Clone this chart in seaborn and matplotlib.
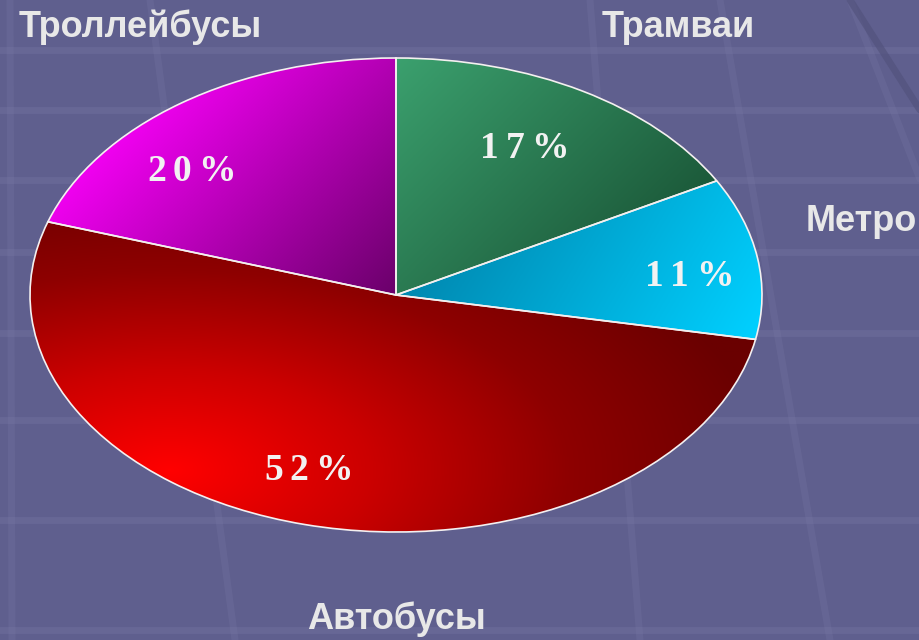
import numpy as np
import matplotlib
matplotlib.use("Agg")
import matplotlib.pyplot as plt
import seaborn as sns

# data
categories = ["Трамваи", "Метро", "Автобусы", "Троллейбусы"]
shares = [17, 11, 52, 20]
pct_labels = ["17%", "11%", "52%", "20%"]

# gradient end colours per slice (light -> dark)
grad_colors = [
    ["#3ba06e", "#1c5a3a"],
    ["#00d0ff", "#0088b0"],
    ["#ff0000", "#cc0000", "#8e0000", "#6a0000"],
    ["#f000f0", "#6a006a"],
]

sns.set_style("white")
plt.rcParams["font.family"] = ["Liberation Sans", "DejaVu Sans"]

bg = "#5f5f8e"
fig = plt.figure(figsize=(9.2, 6.4), dpi=100, facecolor=bg)

# background: faint perspective grid like the slide template
bax = fig.add_axes([0, 0, 1, 1])
bax.set_xlim(0, 920)
bax.set_ylim(640, 0)
bax.axis("off")
grid_c = "#7a7aa6"
for yy in [50, 110, 180, 252, 333, 420, 520, 630]:
    bax.plot([0, 920], [yy, yy], color=grid_c, lw=5, alpha=0.3)
for (x0, y0, x1, y1) in [(10, 0, 12, 640), (150, 0, 235, 640), (590, 0, 640, 640),
                         (720, 0, 830, 640), (850, 0, 1100, 640)]:
    bax.plot([x0, x1], [y0, y1], color=grid_c, lw=5, alpha=0.25)
bax.plot([850, 920], [0, 110], color="#50507a", lw=5, alpha=0.6)

# pie axes, stretched into an ellipse
ax = fig.add_axes([30 / 920, 108 / 640, 732 / 920, 474 / 640])
ax.patch.set_alpha(0)
wedges, _ = ax.pie(shares, startangle=90, counterclock=False,
                   wedgeprops=dict(edgecolor="#f4f0f0", linewidth=1.2))
ax.set_aspect("auto")
ax.set_xlim(-1, 1)
ax.set_ylim(-1, 1)
ax.axis("off")

# gradient fills clipped to each wedge
n = 600
xs = np.linspace(-1, 1, n)
X, Y = np.meshgrid(xs, xs[::-1])
Xp, Yp = X * 366, Y * 237
directions = [(1, -1), (1, -0.6), None, (1, -1)]
for w, cols, d in zip(wedges, grad_colors, directions):
    cmap = sns.blend_palette(cols, as_cmap=True)
    th = np.degrees(np.arctan2(Y, X))
    span = (w.theta2 - w.theta1) % 360
    mask = (((th - w.theta1) % 360) <= span) & (X**2 + Y**2 <= 1)
    if d is None:
        # glow from the lower left, darker towards top and right
        t = np.hypot(Xp - (-0.62 * 366), 2.0 * (Yp - (-0.74 * 237)))
        t = np.clip(t / 600, 0, 1)
    else:
        t = Xp * d[0] + Yp * d[1]
        lo, hi = t[mask].min(), t[mask].max()
        t = (t - lo) / (hi - lo)
    if d == (1, -0.6):
        t = 1 - t
    w.set_facecolor("none")
    im = ax.imshow(t, extent=(-1, 1, -1, 1), cmap=cmap, vmin=0, vmax=1,
                   aspect="auto", zorder=0.5, interpolation="bilinear")
    im.set_clip_path(w)
    w.set_zorder(1)

# percentage labels, wide letter spacing
pct_pos = [(0.36, 0.62), (0.81, 0.08), (-0.23, -0.74), (-0.55, 0.52)]
for txt, (px, py) in zip(pct_labels, pct_pos):
    for ch, off in zip(txt, [-38, -13, 22]):
        ax.annotate(ch, (px, py), xytext=(off, 0), textcoords="offset pixels",
                    ha="center", va="center", color="#f2f2f2", fontsize=27,
                    fontweight="bold", family="Liberation Serif", zorder=3)

# category labels outside
cat_pos = [(0.77, 1.13), (1.27, 0.31), (0.0, -1.37), (-0.70, 1.13)]
for txt, (px, py) in zip(categories, cat_pos):
    ax.text(px, py, txt, ha="center", va="center", color="#e8e8e8",
            fontsize=26, fontweight="bold", clip_on=False, zorder=3)

fig.savefig("out.png", dpi=100, facecolor=bg)
